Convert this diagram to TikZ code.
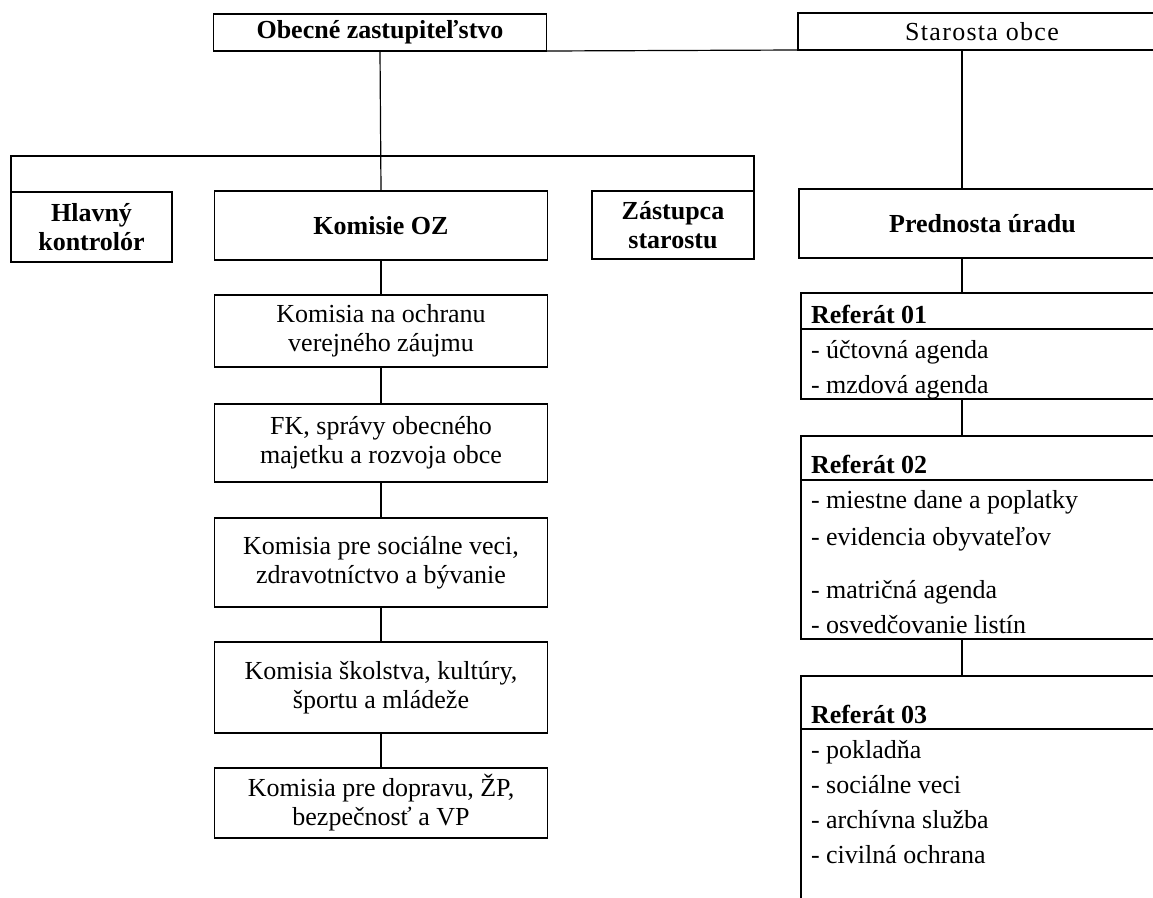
\documentclass[tikz,border=0pt]{standalone}
\usepackage{fontspec}
\setmainfont{Liberation Serif}
\newfontfamily\spacedfont[LetterSpace=5]{Liberation Serif}
\begin{document}
\begin{tikzpicture}[x=1pt,y=-1pt,
  line width=1.2pt,
  every node/.style={inner sep=0pt, outer sep=0pt},
  box/.style={draw, line width=1.2pt, align=center, font=\fontsize{26}{29}\selectfont},
  hbox/.style={box, font=\fontsize{26}{29}\selectfont\bfseries},
  kbox/.style={box, minimum width=333pt},
  refbox/.style={draw, line width=1.2pt, minimum width=365pt},
  item/.style={anchor=base west, font=\fontsize{26}{30}\selectfont},
  ihead/.style={anchor=base west, font=\fontsize{26}{30}\selectfont\bfseries}
]
\useasboundingbox (0,0) rectangle (1153,897);
\clip (0,0) rectangle (1153,897);

% coordinates for connectors
\coordinate (bus) at (381,156);
\coordinate (rx) at (962,0);
\coordinate (h1) at (0,329);
\coordinate (h2) at (0,480);
\coordinate (h3) at (0,729);

% top level
\node[hbox, minimum width=333pt, minimum height=37pt] (ob) at (380,32.5) {Obecné zastupiteľstvo};
\node[box, minimum width=368pt, minimum height=37pt, font=\fontsize{26}{29}\spacedfont] (st) at (982,31.5) {Starosta obce};

% second level
\node[hbox, minimum width=161pt, minimum height=70pt] (hk) at (91.5,227) {Hlavný\\kontrolór};
\node[hbox, minimum width=333pt, minimum height=69pt] (koz) at (381,225.5) {Komisie OZ};
\node[hbox, minimum width=162pt, minimum height=68pt] (zs) at (673,225) {Zástupca\\starostu};
\node[hbox, minimum width=367pt, minimum height=69pt] (pu) at (982.5,223.5) {Prednosta úradu};

% commissions
\node[kbox, minimum height=72pt] (k1) at (381,331) {Komisia na ochranu\\verejného záujmu};
\node[kbox, minimum height=78pt] (k2) at (381,443) {FK, správy obecného\\majetku a rozvoja obce};
\node[kbox, minimum height=89pt] (k3) at (381,562.5) {Komisia pre sociálne veci,\\zdravotníctvo a bývanie};
\node[kbox, minimum height=91pt] (k4) at (381,687.5) {Komisia školstva, kultúry,\\športu a mládeže};
\node[kbox, minimum height=70pt] (k5) at (381,803) {Komisia pre dopravu, ŽP,\\bezpečnosť a VP};

% referáty
\node[refbox, minimum height=106pt] (r1) at (983.5,346) {};
\draw (r1.west |- h1) -- (r1.east |- h1);
\node[ihead] (r1h) at (811,323) {Referát 01};
\node[item] (r1a) at (811,358) {- účtovná agenda};
\node[item] (r1b) at (811,393) {- mzdová agenda};

\node[refbox, minimum height=203pt] (r2) at (983.5,537.5) {};
\draw (r2.west |- h2) -- (r2.east |- h2);
\node[ihead] (r2h) at (811,473) {Referát 02};
\node[item] (r2a) at (811,508) {- miestne dane a poplatky};
\node[item] (r2b) at (811,545) {- evidencia obyvateľov};
\node[item] (r2c) at (811,598) {- matričná agenda};
\node[item] (r2d) at (811,633) {- osvedčovanie listín};

\node[refbox, minimum height=244pt] (r3) at (983.5,798) {};
\draw (r3.west |- h3) -- (r3.east |- h3);
\node[ihead] (r3h) at (811,723) {Referát 03};
\node[item] (r3a) at (811,758) {- pokladňa};
\node[item] (r3b) at (811,793) {- sociálne veci};
\node[item] (r3c) at (811,828) {- archívna služba};
\node[item] (r3d) at (811,863) {- civilná ochrana};

% connectors
\draw (ob.south east) -- (st.south west);
\draw (ob.south) -- (koz.north);
\draw (hk.north west) -- (hk.north west |- bus) -- (zs.north east |- bus) -- (zs.north east);
\draw (st.south -| rx) -- (pu.north -| rx);
\draw (pu.south -| rx) -- (r1.north -| rx);
\draw (r1.south -| rx) -- (r2.north -| rx);
\draw (r2.south -| rx) -- (r3.north -| rx);
\draw (koz.south) -- (k1.north);
\draw (k1.south) -- (k2.north);
\draw (k2.south) -- (k3.north);
\draw (k3.south) -- (k4.north);
\draw (k4.south) -- (k5.north);
\end{tikzpicture}
\end{document}
